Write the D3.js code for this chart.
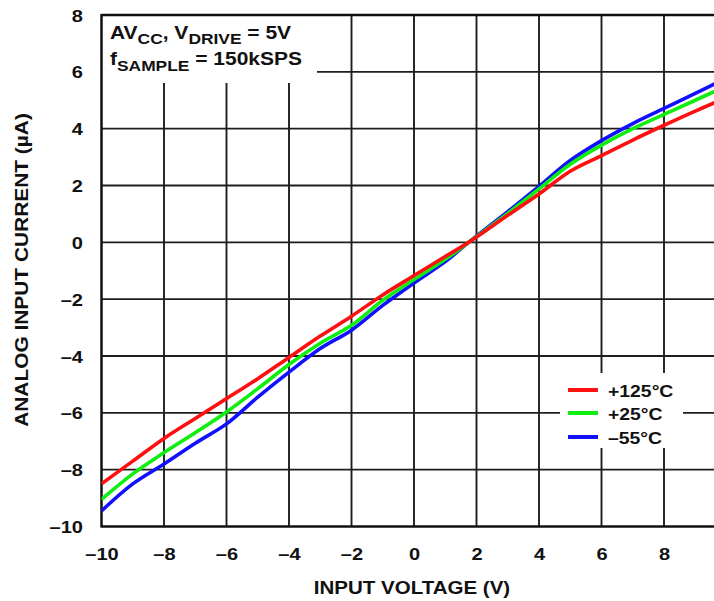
<!DOCTYPE html>
<html>
<head>
<meta charset="utf-8">
<script src="https://cdn.jsdelivr.net/npm/d3@7"></script>
<style>
  html, body { margin: 0; padding: 0; background: #fff; }
  svg { display: block; font-family: 'Liberation Sans', Arial, sans-serif; font-weight: bold; }
</style>
</head>
<body>
<svg id="chart" width="714" height="601"></svg>
<script>
// input voltage (V)
const inputVoltage = [-10, -9, -8, -7, -6, -5, -4, -3, -2, -1, 0, 1, 1.75, 3, 4, 5, 6, 7, 8, 9, 9.7];
// analog input current (uA) per temperature
const current125 = [-8.5, -7.7, -6.9, -6.2, -5.5, -4.8, -4.05, -3.3, -2.6, -1.85, -1.17, -0.5, 0.0, 0.95, 1.7, 2.5, 3.05, 3.6, 4.12, 4.62, 4.95];
const current25 = [-9.05, -8.15, -7.4, -6.7, -5.97, -5.15, -4.3, -3.55, -2.92, -2.04, -1.31, -0.6, 0.0, 1.02, 1.88, 2.75, 3.42, 4.0, 4.5, 5.0, 5.35];
const currentM55 = [-9.45, -8.5, -7.8, -7.07, -6.39, -5.45, -4.57, -3.74, -3.09, -2.22, -1.43, -0.68, 0.0, 1.08, 1.97, 2.88, 3.58, 4.18, 4.71, 5.24, 5.62];

const seriesNames = ['+125°C', '+25°C', '–55°C'];
const xTicks = [-10, -8, -6, -4, -2, 0, 2, 4, 6, 8];
const yTicks = [-10, -8, -6, -4, -2, 0, 2, 4, 6, 8];

const cfg = {
  left: 101.5,
  top: 15,
  bottom: 526.5,
  right: 726.5,
  width: 714,
  gridColor: '#1e1e1e',
  colors: ['#ff1010', '#10ee10', '#1010ff'],
  sx: 1.18, // text is drawn a bit wide in the original
};

const svg = d3.select('#chart');
const fmt = d => (d < 0 ? '–' + Math.abs(d) : String(d));

const x = d3.scaleLinear().domain([-10, 10]).range([cfg.left, cfg.right]);
const y = d3.scaleLinear().domain([-10, 8]).range([cfg.bottom, cfg.top]);

// grid
const grid = svg.append('g');
grid.selectAll('.vgrid')
  .data(xTicks.filter(d => d > -10))
  .enter().append('line')
  .attr('x1', d => x(d)).attr('x2', d => x(d))
  .attr('y1', cfg.top).attr('y2', cfg.bottom)
  .attr('stroke', cfg.gridColor).attr('stroke-width', 1.9);
grid.selectAll('.hgrid')
  .data(yTicks.filter(d => d > -10 && d < 8))
  .enter().append('line')
  .attr('x1', cfg.left).attr('x2', cfg.width)
  .attr('y1', d => y(d)).attr('y2', d => y(d))
  .attr('stroke', cfg.gridColor).attr('stroke-width', 1.9);

// blank out grid under the notes and the legend
svg.append('rect').attr('x', cfg.left).attr('y', cfg.top)
  .attr('width', 317 - cfg.left).attr('height', 83 - cfg.top).attr('fill', '#fff');
svg.append('rect').attr('x', 560).attr('y', 373)
  .attr('width', 123).attr('height', 75).attr('fill', '#fff');

// frame
svg.append('line').attr('x1', cfg.left).attr('x2', cfg.left)
  .attr('y1', cfg.top - 1).attr('y2', cfg.bottom + 1)
  .attr('stroke', '#111').attr('stroke-width', 2.5);
svg.append('line').attr('x1', cfg.left).attr('x2', cfg.width)
  .attr('y1', cfg.top).attr('y2', cfg.top)
  .attr('stroke', '#111').attr('stroke-width', 2.5);
svg.append('line').attr('x1', cfg.left).attr('x2', cfg.width)
  .attr('y1', cfg.bottom).attr('y2', cfg.bottom)
  .attr('stroke', '#111').attr('stroke-width', 2.5);

// curves
svg.append('clipPath').attr('id', 'plotClip')
  .append('rect').attr('x', cfg.left).attr('y', cfg.top)
  .attr('width', cfg.width - cfg.left).attr('height', cfg.bottom - cfg.top);

const series = [current125, current25, currentM55];
const line = d3.line()
  .x((d, i) => x(inputVoltage[i]))
  .y(d => y(d))
  .curve(d3.curveCatmullRom.alpha(0.5));

// draw cold first so the red curve sits on top
[2, 1, 0].forEach(k => {
  svg.append('path')
    .datum(series[k])
    .attr('d', line)
    .attr('clip-path', 'url(#plotClip)')
    .attr('fill', 'none')
    .attr('stroke', cfg.colors[k])
    .attr('stroke-width', 3.6)
    .attr('stroke-linejoin', 'round');
});

// axes
const xAxis = svg.append('g')
  .attr('transform', 'translate(0,' + cfg.bottom + ')')
  .call(d3.axisBottom(x).tickValues(xTicks).tickSize(0).tickFormat(fmt));
xAxis.select('.domain').remove();
xAxis.selectAll('text')
  .attr('y', 34).attr('dy', null)
  .attr('transform', 'scale(' + cfg.sx + ',1)')
  .style('font-size', '17px').style('font-weight', 'bold')
  .style('font-family', "'Liberation Sans', Arial, sans-serif")
  .attr('fill', '#111');

const yAxis = svg.append('g')
  .attr('transform', 'translate(' + cfg.left + ',0)')
  .call(d3.axisLeft(y).tickValues(yTicks).tickSize(0).tickFormat(fmt));
yAxis.select('.domain').remove();
yAxis.selectAll('text')
  .attr('x', -18.5 / cfg.sx).attr('dy', '0.36em')
  .attr('transform', 'scale(' + cfg.sx + ',1)')
  .style('font-size', '17px').style('font-weight', 'bold')
  .style('font-family', "'Liberation Sans', Arial, sans-serif")
  .attr('fill', '#111');

// axis titles
svg.append('text')
  .attr('transform', 'translate(412,594) scale(1.08,1)')
  .attr('text-anchor', 'middle')
  .style('font-size', '19px')
  .attr('fill', '#111')
  .text('INPUT VOLTAGE (V)');

svg.append('text')
  .attr('transform', 'translate(28,270) rotate(-90) scale(1.13,1)')
  .attr('text-anchor', 'middle')
  .style('font-size', '18.5px')
  .attr('fill', '#111')
  .text('ANALOG INPUT CURRENT (µA)');

// conditions note
const note = svg.append('g').attr('fill', '#111');
const line1 = note.append('text')
  .attr('transform', 'translate(110,39) scale(1.2,1)')
  .style('font-size', '17.5px');
line1.append('tspan').text('AV');
line1.append('tspan').attr('dy', 5).style('font-size', '14.5px').text('CC');
line1.append('tspan').attr('dy', -5).text(', V');
line1.append('tspan').attr('dy', 5).style('font-size', '14.5px').text('DRIVE');
line1.append('tspan').attr('dy', -5).text(' = 5V');

const line2 = note.append('text')
  .attr('transform', 'translate(110,65) scale(1.2,1)')
  .style('font-size', '17.5px');
line2.append('tspan').text('f');
line2.append('tspan').attr('dy', 6).style('font-size', '14.5px').text('SAMPLE');
line2.append('tspan').attr('dy', -6).text(' = 150kSPS');

// legend
const legendY = [390, 413, 437];
const legend = svg.append('g');
seriesNames.forEach((name, k) => {
  legend.append('line')
    .attr('x1', 568).attr('x2', 598)
    .attr('y1', legendY[k]).attr('y2', legendY[k])
    .attr('stroke', cfg.colors[k]).attr('stroke-width', 4);
  legend.append('text')
    .attr('transform', 'translate(608,' + (legendY[k] + 6.5) + ') scale(1.14,1)')
    .style('font-size', '17px')
    .attr('fill', '#111')
    .text(name);
});
</script>
</body>
</html>
